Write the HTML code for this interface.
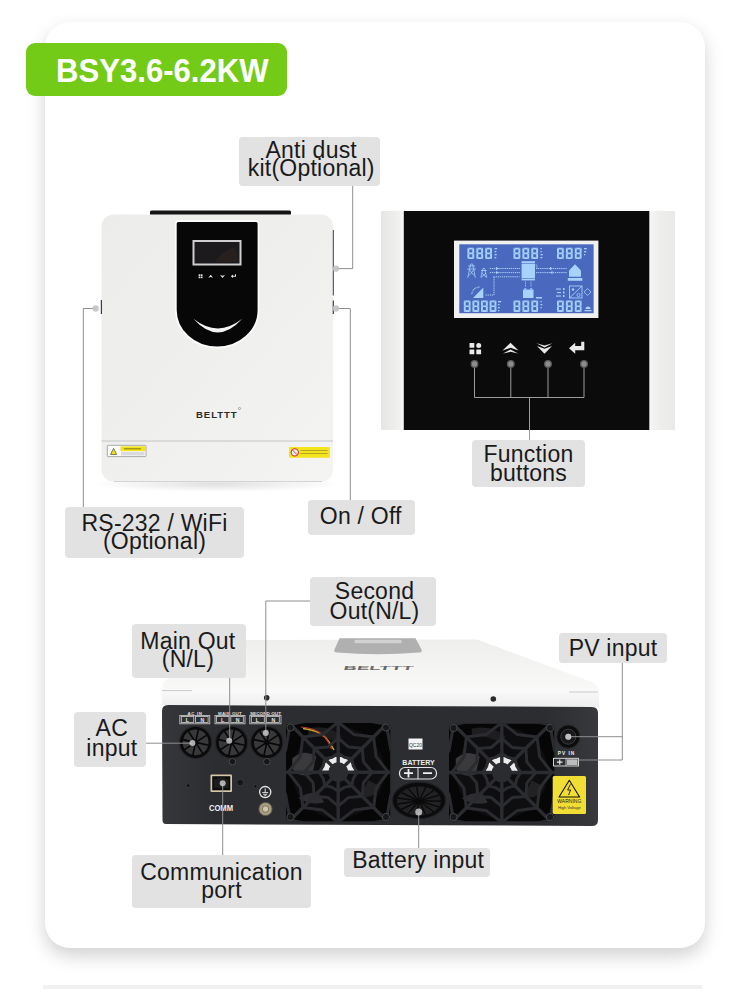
<!DOCTYPE html>
<html><head><meta charset="utf-8">
<style>
*{margin:0;padding:0;box-sizing:border-box}
html,body{width:750px;height:995px;background:#fff;overflow:hidden;position:relative;font-family:"Liberation Sans",sans-serif}
.card{position:absolute;left:45px;top:22px;width:660px;height:926px;border-radius:25px;background:#fff;box-shadow:0 8px 18px rgba(0,0,0,0.18)}
.bar{position:absolute;left:43px;top:985px;width:659px;height:4px;background:#f1f1f1}
.tag{position:absolute;left:26px;top:43px;width:261px;height:53px;border-radius:9px;background:#74cb17;color:#fff;font-weight:bold;font-size:32.5px;line-height:52px;padding-left:30.2px}
.tt{display:inline-block;transform:scaleX(0.957);transform-origin:0 0;white-space:nowrap;position:relative;top:2px}
svg.g{position:absolute;left:0;top:0}
.lb{position:absolute;background:#e2e2e2;border-radius:4px;font-size:23px;line-height:18.5px;text-align:center;letter-spacing:0.22px;color:#1a1a1a;white-space:nowrap}
</style></head><body>
<div class="card"></div>
<div class="bar"></div>
<div class="tag"><span class="tt">BSY3.6-6.2KW</span></div>
<svg class="g" width="750" height="995" viewBox="0 0 750 995">
<defs>
 <linearGradient id="bodyG" x1="0" y1="0" x2="1" y2="1">
  <stop offset="0" stop-color="#ececeb"/><stop offset="0.5" stop-color="#efefee"/><stop offset="1" stop-color="#f4f4f3"/>
 </linearGradient>
 <radialGradient id="shadowG" cx="0.5" cy="0.5" r="0.5">
  <stop offset="0" stop-color="#000" stop-opacity="0.12"/><stop offset="1" stop-color="#000" stop-opacity="0"/>
 </radialGradient>
 <linearGradient id="sideL" x1="0" y1="0" x2="1" y2="0">
  <stop offset="0" stop-color="#d9d9d7"/><stop offset="1" stop-color="#f4f4f2"/>
 </linearGradient>
 <linearGradient id="sideR" x1="0" y1="0" x2="1" y2="0">
  <stop offset="0" stop-color="#f4f4f2"/><stop offset="1" stop-color="#dcdcda"/>
 </linearGradient>
</defs>
<!-- FRONT INVERTER -->
<ellipse cx="217" cy="484" rx="125" ry="8" fill="url(#shadowG)"/>
<rect x="150" y="210.5" width="141" height="5" rx="1.5" fill="#151515"/>
<rect x="101.5" y="214.5" width="231.5" height="267" rx="12" fill="url(#bodyG)"/>
<line x1="101.5" y1="441" x2="333" y2="441" stroke="#c4c4c2" stroke-width="1"/>
<line x1="114" y1="481.5" x2="322" y2="481.5" stroke="#d4d4d4" stroke-width="1"/>

<line x1="333.3" y1="230" x2="333.3" y2="295.5" stroke="#3a3d45" stroke-width="1"/>
<line x1="333.3" y1="300.5" x2="333.3" y2="314" stroke="#3a3d45" stroke-width="1.2"/>
<line x1="101.4" y1="300" x2="101.4" y2="314" stroke="#3a3d45" stroke-width="1.2"/>
<path d="M175.8 223.5 Q175.8 221 178.3 221 L256 221 Q258.5 221 258.5 223.5 L258.5 310 A41.35 37.5 0 0 1 175.8 310 Z" fill="#070707" stroke="#fbfbfb" stroke-width="1.8"/>
<rect x="193.5" y="241" width="47" height="23.5" fill="#1b1b22" stroke="#cfcfcf" stroke-width="2"/>
<rect x="195.5" y="242.5" width="43" height="20.5" fill="#1c1a1c"/>
<path d="M215 262 Q222 250 236 247 L238.5 262Z" fill="#2a2220" opacity="0.8"/>
<g fill="#e4e4e4">
 <rect x="198.6" y="274.3" width="1.7" height="1.7"/><rect x="200.8" y="274.3" width="1.7" height="1.7"/><rect x="198.6" y="276.5" width="1.7" height="1.7"/><rect x="200.8" y="276.5" width="1.7" height="1.7"/>
 <path d="M208.3 277.8 L210.7 274.8 L213.1 277.8 L210.7 277 Z"/>
 <path d="M220 275 L222.5 278 L225 275 L222.5 275.8 Z"/>
 <path d="M230.8 276.3 L233 274.5 V275.8 H235 V274.3 H236 V276.8 H233 V278 Z"/>
</g>
<path d="M193.4 318.8 Q217.8 346 242.2 318.8 Q217.8 338 193.4 318.8Z" fill="#f4f4f4"/>
<text x="196" y="417.5" font-family="Liberation Sans" font-weight="bold" font-size="9.6" letter-spacing="0.9" fill="#2b2b2b">BELTTT</text>
<circle cx="239.5" cy="408.5" r="1.1" fill="none" stroke="#666" stroke-width="0.5"/>
<!-- caution label -->
<rect x="107.3" y="445.3" width="38.7" height="11.3" rx="0.8" fill="#fbfbfb" stroke="#8a8a8a" stroke-width="0.7"/>
<rect x="120.5" y="446.3" width="24.5" height="4.8" fill="#f0e21c"/>
<rect x="121" y="451.8" width="23.5" height="3.6" fill="#d9d9de"/>
<path d="M110.5 454.5 L113.6 448.3 L116.7 454.5Z" fill="#efe01c" stroke="#333" stroke-width="0.6"/>
<path d="M124 448.8 H141" stroke="#6a6010" stroke-width="0.8"/>
<rect x="289" y="447" width="41" height="10.8" rx="1" fill="#f3e41e"/>
<circle cx="294.8" cy="452.4" r="3.6" fill="#e8eef4" stroke="#d83030" stroke-width="1.1"/>
<path d="M292.3 449.9 L297.3 454.9" stroke="#d83030" stroke-width="0.9"/>
<g fill="#8a7a20"><rect x="300.5" y="450.3" width="27" height="0.6"/><rect x="300.5" y="453.3" width="27" height="0.6"/></g>

<!-- RIGHT PANEL -->
<defs>
 <linearGradient id="stripL" x1="0" y1="0" x2="1" y2="0">
  <stop offset="0" stop-color="#e6e6e5"/><stop offset="0.6" stop-color="#ededec"/><stop offset="1" stop-color="#f6f6f5"/>
 </linearGradient>
 <linearGradient id="stripR" x1="0" y1="0" x2="1" y2="0">
  <stop offset="0" stop-color="#f6f6f5"/><stop offset="0.4" stop-color="#eeeeed"/><stop offset="1" stop-color="#e9e9e8"/>
 </linearGradient>
 <linearGradient id="blackP" x1="0" y1="0" x2="0" y2="1">
  <stop offset="0" stop-color="#0a0a0b"/><stop offset="1" stop-color="#0b0b0c"/>
 </linearGradient>
</defs>
<rect x="381" y="211" width="23" height="219" fill="url(#stripL)"/>
<rect x="649" y="211" width="26" height="219" fill="url(#stripR)"/>
<rect x="403.8" y="211" width="245.5" height="219" fill="url(#blackP)"/>
<rect x="454" y="240.6" width="144.4" height="77.4" fill="#f0f0f0"/>
<rect x="459.3" y="244.3" width="134.3" height="68.9" fill="#4a68bd"/>
<g id="lcd">
<symbol id="d8" overflow="visible"><path fill="#a6d2fb" fill-rule="evenodd" d="M1 0 H5.8 Q6.8 0 6.8 1 V10.4 Q6.8 11.4 5.8 11.4 H1 Q0 11.4 0 10.4 V1 Q0 0 1 0 Z M1.9 1.8 V4.9 H4.9 V1.8 Z M1.9 6.5 V9.6 H4.9 V6.5 Z"/>
<path d="M0 5.7 H1.2 M5.6 5.7 H6.8 M0.8 0.5 L1.6 1.3 M6 0.5 L5.2 1.3 M0.8 10.9 L1.6 10.1 M6 10.9 L5.2 10.1" stroke="#4a68bd" stroke-width="0.5"/></symbol>
<use href="#d8" x="467.4" y="247.7"/><use href="#d8" x="476.3" y="247.7"/><use href="#d8" x="485.2" y="247.7"/><use href="#d8" x="513.5" y="247.7"/><use href="#d8" x="522.4" y="247.7"/><use href="#d8" x="531.3" y="247.7"/><use href="#d8" x="557.0" y="247.7"/><use href="#d8" x="565.9" y="247.7"/><use href="#d8" x="574.8" y="247.7"/>
<use href="#d8" x="463.8" y="300.5"/><use href="#d8" x="472.4" y="300.5"/><use href="#d8" x="481.0" y="300.5"/><use href="#d8" x="489.6" y="300.5"/><use href="#d8" x="513.5" y="300.5"/><use href="#d8" x="522.4" y="300.5"/><use href="#d8" x="531.3" y="300.5"/><use href="#d8" x="557.0" y="300.5"/><use href="#d8" x="565.9" y="300.5"/><use href="#d8" x="574.8" y="300.5"/>
<g fill="#a6d2fb" font-family="Liberation Sans" font-size="2.6">
 <rect x="494.5" y="248" width="2.6" height="1.3"/><rect x="494.5" y="251" width="1.8" height="1.3"/><rect x="494.5" y="254" width="2.2" height="1.3"/><rect x="494.5" y="257" width="1.8" height="1.3"/>
 <rect x="540.5" y="248" width="1.3" height="1.3"/><rect x="540.5" y="251" width="1.3" height="1.3"/><rect x="540.5" y="254" width="2.2" height="1.3"/><rect x="540.5" y="257" width="1.8" height="1.3"/>
 <rect x="584" y="248" width="2.8" height="1.3"/><rect x="584" y="251" width="2.2" height="1.3"/><rect x="584" y="254" width="1.3" height="1.3"/>
 <rect x="498" y="301" width="3.2" height="1.3"/><rect x="498" y="304" width="1.5" height="1.3"/><rect x="498" y="307" width="1.8" height="1.3"/><rect x="498" y="310" width="1.3" height="1.3"/>
 <rect x="540.5" y="301" width="1.3" height="1.3"/><rect x="540.5" y="304" width="1.8" height="1.3"/><rect x="540.5" y="307" width="1.3" height="1.3"/>
 <rect x="536" y="297" width="6" height="1.5"/>
 <!-- inverter -->
 <rect x="521.6" y="261.2" width="13.4" height="1.8"/>
 <rect x="521.6" y="263.6" width="13.4" height="14.4"/>
 <rect x="521.6" y="278.6" width="13.4" height="1.8"/>
 <!-- battery -->
 <rect x="523" y="289.5" width="10.5" height="8.5"/><rect x="524.3" y="288.2" width="2" height="1.3"/><rect x="530.2" y="288.2" width="2" height="1.3"/>
 <!-- house -->
 <path d="M569 270.5 L575 264.3 L581 270.5 L581 276.8 L569 276.8 Z"/>
 <rect x="567.8" y="278" width="14.5" height="2.8"/>
 <!-- solar -->
 <path d="M473 298 L483.3 287.5 L483.3 298 Z"/>
 <path d="M471.8 294 A8 8 0 0 1 480 287" fill="none" stroke="#a6d2fb" stroke-width="1.2" stroke-dasharray="0.8 0.6"/>
 <!-- fault labels -->
 <rect x="556" y="288.5" width="5" height="1.1"/><rect x="557" y="292" width="4" height="1.1"/><rect x="556" y="295.5" width="5" height="1.1"/>
 <rect x="563" y="288" width="1.5" height="2"/><rect x="563" y="291.5" width="1.5" height="2"/><rect x="563" y="295" width="1.5" height="2"/>
 <!-- sun/diamond -->
 <path d="M587.5 288.5 L591 292 L587.5 295.5 L584 292 Z" fill="none" stroke="#a6d2fb" stroke-width="0.8"/>
 <path d="M584.5 310 H591.5 V311.3 H584.5Z M585.5 309 A2.5 2.5 0 0 1 590.5 309Z"/>
</g>
<g stroke="#a6d2fb" fill="none" stroke-width="0.9">
 <path d="M467.8 277.8 L470.6 264 M475.4 277.8 L472.6 264 M470.6 264 H472.6 M468.2 266 H475 M467.2 269 H476 M469.6 270 L474 275.5 M473.6 270 L469.2 275.5" stroke-width="0.8"/>
 <path d="M480.8 277.8 L483 268.5 M486.8 277.8 L484.6 268.5 M483 268.5 H484.6 M481 270.5 H486.6 M481.6 273 L486 277 M486 273 L481.6 277" stroke-width="0.8"/>
 <path d="M489.8 268.5 H520 M489.8 272.6 H520 M536 268.5 H567 M536 272.6 H567 M493.5 276.8 H519.5 M494 277 V295 H485" stroke-dasharray="1.3 0.8" stroke-width="1"/>
 <path d="M534.5 265 H537 V268" stroke-dasharray="1 0.6"/>
 <path d="M525.5 281.5 V287 M531 281.5 V287" stroke-dasharray="1 0.7"/>
 <rect x="569.5" y="286" width="12.5" height="12"/>
 <path d="M569.5 298 L582 286"/>
</g>
<g fill="#a6d2fb"><path d="M496 266.8 L498.5 268.5 L496 270.2Z M496 270.9 L498.5 272.6 L496 274.3Z M550 266.8 L552.5 268.5 L550 270.2Z M552.5 270.9 L550 272.6 L552.5 274.3Z"/>
<circle cx="573" cy="289.5" r="1.3"/><circle cx="578.5" cy="295" r="1.6" fill="none" stroke="#a6d2fb" stroke-width="0.8"/></g>
</g>
<!-- buttons -->
<g fill="#e9e9e9">
 <rect x="469.5" y="343" width="4.8" height="4.8" rx="0.5"/><circle cx="478.7" cy="345.4" r="2.5"/>
 <rect x="469.5" y="349.5" width="4.8" height="4.8" rx="0.5"/><rect x="476.3" y="349.5" width="4.8" height="4.8" rx="0.5"/>
 <path d="M502.5 350.5 L510.5 342.8 L518.5 350.5 L510.5 347.8 Z"/>
 <path d="M503 353.6 L510.5 349.5 L518 353.6 L510.5 351.8 Z"/>
 <path d="M536.5 343.3 L544.5 347.5 L552.5 343.3 L544.5 345.4 Z"/>
 <path d="M537 346 L544.5 348.7 L552 346 L544.5 353.8 Z"/>
 <path d="M569 348.3 L575.2 342.8 L575.2 346 L581.2 346 L581.2 341.8 L584.3 341.8 L584.3 350.3 L575.2 350.3 L575.2 353.8 Z"/>
</g>
<g stroke="#9c9c9c" stroke-width="1" fill="none">
 <path d="M474.5 364 V397.5 H584 V364 M510.8 364 V397.5 M548 364 V397.5 M529.5 397.5 V440"/>
</g>
<g fill="#8c8c8c" stroke="#5a5a5a" stroke-width="1.3">
 <circle cx="474.5" cy="364" r="3.3"/><circle cx="510.8" cy="364" r="3.3"/><circle cx="548" cy="364" r="3.3"/><circle cx="584" cy="364" r="3.3"/>
</g>
<!-- top section leader lines -->
<g stroke="#8e8e8e" stroke-width="1" fill="none">
 <path d="M352.7 186 V268.6 H336"/>
 <path d="M336 308.5 H350.3 V500"/>
 <path d="M95.7 308.5 H83.3 V507"/>
</g>
<g fill="#c4c4c4" opacity="0.9">
 <circle cx="336" cy="268.6" r="3.2"/><circle cx="336" cy="308.5" r="3.2"/><circle cx="95.7" cy="308.5" r="3.2"/>
</g>


<!-- BOTTOM UNIT -->
<defs>
 <linearGradient id="topS" x1="0" y1="0" x2="0" y2="1">
  <stop offset="0" stop-color="#eeeeed"/><stop offset="0.6" stop-color="#f5f5f4"/><stop offset="1" stop-color="#f9f9f8"/>
 </linearGradient>
 <linearGradient id="panelG" x1="0" y1="0" x2="1" y2="0">
  <stop offset="0" stop-color="#36373b"/><stop offset="0.12" stop-color="#2c2d31"/><stop offset="0.88" stop-color="#2c2d31"/><stop offset="1" stop-color="#38393d"/>
 </linearGradient>
 <linearGradient id="frontS" x1="0" y1="0" x2="0" y2="1">
  <stop offset="0" stop-color="#fafafa"/><stop offset="1" stop-color="#ededed"/>
 </linearGradient>
</defs>
<path d="M162 690 Q162 680 172 676 L246 640 L477 639.5 L592 682 Q599 685 599 692 Z" fill="url(#topS)"/>
<path d="M334.5 649.5 Q333 652 337 652.5 Q378 656 419 652.5 Q423 652 421.5 649.5 L415.5 638.2 L339.5 638.2 Z" fill="#b0b0b0"/>
<rect x="354.5" y="639.8" width="47" height="3.4" fill="#d2d2d2"/>
<text x="343" y="670" font-family="Liberation Sans" font-weight="bold" font-size="6" textLength="70" lengthAdjust="spacingAndGlyphs" fill="#6a6a6a" transform="translate(179.5 0) skewX(-15)">BELTTT</text>
<path d="M162 690 H599 V707.5 L162 705 Z" fill="url(#frontS)"/>
<line x1="162" y1="690.6" x2="192" y2="690.6" stroke="#bcbcbc" stroke-width="0.8"/>
<line x1="569" y1="692" x2="598" y2="692" stroke="#bcbcbc" stroke-width="0.8"/>
<path d="M162 711 Q162 705 168 705 L592 707 Q598 707 598 713 L598 820 Q598 826 592 826 L166 824 Q162.5 824 162.5 820 Z" fill="url(#panelG)"/>
<circle cx="266.7" cy="697.7" r="2.8" fill="#2a2a2c"/>
<circle cx="493.3" cy="699" r="2.8" fill="#2a2a2c"/>
<g font-family="Liberation Sans" font-weight="bold" font-size="4.4" fill="#e0e0e0" text-anchor="middle">
 <text x="195" y="714.6" letter-spacing="0.6">AC IN</text><text x="230" y="714.6" letter-spacing="0.3">MAIN OUT</text><text x="265.5" y="714.6" textLength="31" lengthAdjust="spacingAndGlyphs">SECOND OUT</text>
</g>
<g font-family="Liberation Sans" font-weight="bold" font-size="5.2" fill="#e8e8e8" text-anchor="middle">
 <text x="187.3" y="721.8">L</text><text x="202.3" y="721.8">N</text>
 <text x="222.5" y="721.8">L</text><text x="237.5" y="721.8">N</text>
 <text x="257.3" y="721.8">L</text><text x="273.3" y="721.8">N</text>
</g>
<g fill="none" stroke="#d0d0d0" stroke-width="0.8">
 <rect x="179.8" y="715.4" width="30" height="8.4"/><rect x="181.3" y="716.6" width="12.5" height="6"/><rect x="195.6" y="716.6" width="12.5" height="6"/>
 <rect x="215" y="715.4" width="30" height="8.4"/><rect x="216.5" y="716.6" width="12.5" height="6"/><rect x="230.8" y="716.6" width="12.5" height="6"/>
 <rect x="249.8" y="715.4" width="31.2" height="8.4"/><rect x="251.3" y="716.6" width="13" height="6"/><rect x="266.3" y="716.6" width="13" height="6"/>
</g>
<circle cx="195.6" cy="742.4" r="16.7" fill="#242528"/>
<circle cx="195.6" cy="742.4" r="15.5" fill="#0a0a0b"/>
<circle cx="195.6" cy="742.4" r="12.9" fill="#38383b"/>
<path d="M195.6 742.4 L208.6 745.2 M195.6 742.4 L202.8 753.6 M195.6 742.4 L192.8 755.4 M195.6 742.4 L184.4 749.6 M195.6 742.4 L182.6 739.6 M195.6 742.4 L188.4 731.2 M195.6 742.4 L198.4 729.4 M195.6 742.4 L206.8 735.2" stroke="#070708" stroke-width="1.6"/>
<circle cx="195.6" cy="742.4" r="2.2" fill="#0a0a0a"/>
<circle cx="231.6" cy="742.4" r="16.7" fill="#242528"/>
<circle cx="231.6" cy="742.4" r="15.5" fill="#0a0a0b"/>
<circle cx="231.6" cy="742.4" r="12.9" fill="#38383b"/>
<path d="M231.6 742.4 L244.6 745.2 M231.6 742.4 L238.8 753.6 M231.6 742.4 L228.8 755.4 M231.6 742.4 L220.4 749.6 M231.6 742.4 L218.6 739.6 M231.6 742.4 L224.4 731.2 M231.6 742.4 L234.4 729.4 M231.6 742.4 L242.8 735.2" stroke="#070708" stroke-width="1.6"/>
<circle cx="231.6" cy="742.4" r="2.2" fill="#0a0a0a"/>
<circle cx="266.8" cy="742.4" r="16.7" fill="#242528"/>
<circle cx="266.8" cy="742.4" r="15.5" fill="#0a0a0b"/>
<circle cx="266.8" cy="742.4" r="12.9" fill="#38383b"/>
<path d="M266.8 742.4 L279.8 745.2 M266.8 742.4 L274.0 753.6 M266.8 742.4 L264.0 755.4 M266.8 742.4 L255.6 749.6 M266.8 742.4 L253.8 739.6 M266.8 742.4 L259.6 731.2 M266.8 742.4 L269.6 729.4 M266.8 742.4 L278.0 735.2" stroke="#070708" stroke-width="1.6"/>
<circle cx="266.8" cy="742.4" r="2.2" fill="#0a0a0a"/>
<circle cx="232.4" cy="761.6" r="3.3" fill="#161618" stroke="#4a4a4e" stroke-width="1"/>
<circle cx="266.8" cy="761.6" r="3.3" fill="#161618" stroke="#4a4a4e" stroke-width="1"/>
<circle cx="188.2" cy="785.5" r="1.6" fill="#0a0a0a" stroke="#48484c" stroke-width="0.5"/>
<circle cx="255.4" cy="786.3" r="1.5" fill="#0a0a0a" stroke="#48484c" stroke-width="0.5"/>
<circle cx="240.2" cy="782.6" r="3.5" fill="#161618" stroke="#3a3a3e" stroke-width="1"/>
<rect x="210.5" y="774.5" width="21.5" height="17.5" rx="1" fill="#d6c7a8"/>
<rect x="212.2" y="776.2" width="18.1" height="14.1" fill="#0c0c0c"/>
<path d="M214 779 H217.5 V777.5 H225 V779 H228.5 V788 H214 Z" fill="#1c1c1c"/>
<text x="221" y="811" font-family="Liberation Sans" font-weight="bold" font-size="8.5" fill="#f0f0f0" text-anchor="middle" transform="translate(221 0) scale(0.9 1) translate(-221 0)">COMM</text>
<circle cx="265.2" cy="792.1" r="5.6" fill="#2a2a2d" stroke="#e6e6e6" stroke-width="1.3"/>
<path d="M265.2 788.3 V792.3 M262.2 792.6 H268.2 M263.2 794.3 H267.2 M264.2 795.8 H266.2" stroke="#eeeeee" stroke-width="0.9"/>
<circle cx="265.5" cy="809" r="6.6" fill="#a89d80" stroke="#5e574a" stroke-width="0.9"/>
<circle cx="265.5" cy="809" r="3.2" fill="#cfc6ae" stroke="#6e6654" stroke-width="0.8"/>
<clipPath id="fc1"><rect x="286" y="723" width="104.5" height="98.5" rx="5"/></clipPath>
<g clip-path="url(#fc1)">
<rect x="286" y="723" width="104.5" height="98.5" fill="#060607"/>
<circle cx="338.25" cy="772.25" r="46" fill="#0e0e10"/>
<path d="M292.25 758.25 q12 -10 24 -2 l-4 18 q-14 4 -20 -6 z" fill="#3a3a3d"/>
<path d="M298.25 798.25 q14 8 26 4 l-6 -10 q-12 0 -20 6z" fill="#2e2e31"/>
<path d="M360.25 796.25 q14 4 20 -10 l-12 -6 z" fill="#222225"/>
<path d="M308.25 728.25 q20 -4 34 8 l-6 6 q-14 -8 -28 -6z" fill="#1e1e21"/>
<path d="M321.75 773.25 A16.5 16.5 0 0 1 354.75 773.25 L348.25 773.25 A10 10 0 0 0 328.25 773.25 Z" fill="#ececec"/>
<path d="M303 728.5 Q318 730 326 738 Q331 744 334 750" stroke="#c8a82a" stroke-width="1.4" fill="none"/><path d="M301 727 Q316 728 324 736 Q329 742 331.5 749" stroke="#b83a2a" stroke-width="1.2" fill="none"/>
<path d="M347.2 772.2 L393.2 772.2 M344.6 778.6 L391.3 825.3 M338.2 781.2 L338.2 827.2 M331.9 778.6 L285.2 825.3 M329.2 772.2 L283.2 772.2 M331.9 765.9 L285.2 719.2 M338.2 763.2 L338.2 717.2 M344.6 765.9 L391.3 719.2" stroke="#2b2c30" stroke-width="3.4" fill="none"/>
<polygon points="357.2,772.2 353.3,778.5 351.7,785.7 344.5,787.3 338.2,791.2 332.0,787.3 324.8,785.7 323.2,778.5 319.2,772.2 323.2,766.0 324.8,758.8 332.0,757.2 338.2,753.2 344.5,757.2 351.7,758.8 353.3,766.0" stroke="#2b2c30" stroke-width="3" fill="none" stroke-linejoin="round"/>
<polygon points="372.2,772.2 363.4,782.7 362.3,796.3 348.7,797.4 338.2,806.2 327.8,797.4 314.2,796.3 313.1,782.7 304.2,772.2 313.1,761.8 314.2,748.2 327.8,747.1 338.2,738.2 348.7,747.1 362.3,748.2 363.4,761.8" stroke="#2b2c30" stroke-width="3" fill="none" stroke-linejoin="round"/>
<polygon points="388.2,772.2 376.1,787.9 373.6,807.6 353.9,810.1 338.2,822.2 322.6,810.1 302.9,807.6 300.4,787.9 288.2,772.2 300.4,756.6 302.9,736.9 322.6,734.4 338.2,722.2 353.9,734.4 373.6,736.9 376.1,756.6" stroke="#2b2c30" stroke-width="3" fill="none" stroke-linejoin="round"/>
<polygon points="406.2,772.2 391.0,794.1 386.3,820.3 360.1,825.0 338.2,840.2 316.4,825.0 290.2,820.3 285.5,794.1 270.2,772.2 285.5,750.4 290.2,724.2 316.4,719.5 338.2,704.2 360.1,719.5 386.3,724.2 391.0,750.4" stroke="#2b2c30" stroke-width="3" fill="none" stroke-linejoin="round"/>
<circle cx="338.25" cy="772.25" r="10" fill="#2b2c30"/>
</g>
<circle cx="290.5" cy="727.5" r="3.6" fill="#18181a" stroke="#4a4b4f" stroke-width="0.9"/>
<circle cx="386.0" cy="727.5" r="3.6" fill="#18181a" stroke="#4a4b4f" stroke-width="0.9"/>
<circle cx="290.5" cy="817.0" r="3.6" fill="#18181a" stroke="#4a4b4f" stroke-width="0.9"/>
<circle cx="386.0" cy="817.0" r="3.6" fill="#18181a" stroke="#4a4b4f" stroke-width="0.9"/>
<clipPath id="fc2"><rect x="449" y="723.5" width="105.5" height="98" rx="5"/></clipPath>
<g clip-path="url(#fc2)">
<rect x="449" y="723.5" width="105.5" height="98" fill="#060607"/>
<circle cx="501.75" cy="772.5" r="46" fill="#0e0e10"/>
<path d="M455.75 758.5 q12 -10 24 -2 l-4 18 q-14 4 -20 -6 z" fill="#3a3a3d"/>
<path d="M461.75 798.5 q14 8 26 4 l-6 -10 q-12 0 -20 6z" fill="#2e2e31"/>
<path d="M523.75 796.5 q14 4 20 -10 l-12 -6 z" fill="#222225"/>
<path d="M471.75 728.5 q20 -4 34 8 l-6 6 q-14 -8 -28 -6z" fill="#1e1e21"/>
<path d="M485.25 773.5 A16.5 16.5 0 0 1 518.25 773.5 L511.75 773.5 A10 10 0 0 0 491.75 773.5 Z" fill="#ececec"/>

<path d="M510.8 772.5 L556.8 772.5 M508.1 778.9 L554.8 825.5 M501.8 781.5 L501.8 827.5 M495.4 778.9 L448.7 825.5 M492.8 772.5 L446.8 772.5 M495.4 766.1 L448.7 719.5 M501.8 763.5 L501.8 717.5 M508.1 766.1 L554.8 719.5" stroke="#2b2c30" stroke-width="3.4" fill="none"/>
<polygon points="520.8,772.5 516.8,778.8 515.2,785.9 508.0,787.6 501.8,791.5 495.5,787.6 488.3,785.9 486.7,778.8 482.8,772.5 486.7,766.2 488.3,759.1 495.5,757.4 501.8,753.5 508.0,757.4 515.2,759.1 516.8,766.2" stroke="#2b2c30" stroke-width="3" fill="none" stroke-linejoin="round"/>
<polygon points="535.8,772.5 526.9,782.9 525.8,796.5 512.2,797.6 501.8,806.5 491.3,797.6 477.7,796.5 476.6,782.9 467.8,772.5 476.6,762.1 477.7,748.5 491.3,747.4 501.8,738.5 512.2,747.4 525.8,748.5 526.9,762.1" stroke="#2b2c30" stroke-width="3" fill="none" stroke-linejoin="round"/>
<polygon points="551.8,772.5 539.6,788.2 537.1,807.9 517.4,810.4 501.8,822.5 486.1,810.4 466.4,807.9 463.9,788.2 451.8,772.5 463.9,756.8 466.4,737.1 486.1,734.6 501.8,722.5 517.4,734.6 537.1,737.1 539.6,756.8" stroke="#2b2c30" stroke-width="3" fill="none" stroke-linejoin="round"/>
<polygon points="569.8,772.5 554.5,794.4 549.8,820.6 523.6,825.3 501.8,840.5 479.9,825.3 453.7,820.6 449.0,794.4 433.8,772.5 449.0,750.6 453.7,724.4 479.9,719.7 501.8,704.5 523.6,719.7 549.8,724.4 554.5,750.6" stroke="#2b2c30" stroke-width="3" fill="none" stroke-linejoin="round"/>
<circle cx="501.75" cy="772.5" r="10" fill="#2b2c30"/>
</g>
<circle cx="453.5" cy="728.0" r="3.6" fill="#18181a" stroke="#4a4b4f" stroke-width="0.9"/>
<circle cx="550.0" cy="728.0" r="3.6" fill="#18181a" stroke="#4a4b4f" stroke-width="0.9"/>
<circle cx="453.5" cy="817.0" r="3.6" fill="#18181a" stroke="#4a4b4f" stroke-width="0.9"/>
<circle cx="550.0" cy="817.0" r="3.6" fill="#18181a" stroke="#4a4b4f" stroke-width="0.9"/>
<rect x="408.5" y="738.5" width="14" height="11" fill="#f4f4f4"/>
<text x="415.5" y="746.5" font-family="Liberation Sans" font-size="5" fill="#333" text-anchor="middle">QC20</text>
<text x="418.5" y="765" font-family="Liberation Sans" font-weight="bold" font-size="7" fill="#eeeeee" text-anchor="middle">BATTERY</text>
<rect x="399.5" y="767.5" width="37" height="11.5" rx="5.5" fill="none" stroke="#e6e6e6" stroke-width="1.2"/>
<line x1="418" y1="767.5" x2="418" y2="779" stroke="#e6e6e6" stroke-width="1"/>
<path d="M404 773.2 H413 M408.5 769 V777.5 M423 773.2 H432" stroke="#f0f0f0" stroke-width="1.8"/>
<ellipse cx="419" cy="800.4" rx="26.5" ry="18.2" fill="#0b0b0c" stroke="#1e1f22" stroke-width="1.2"/>
<ellipse cx="419" cy="801" rx="22" ry="14.5" fill="#222224"/>
<g stroke="#0a0a0b" stroke-width="1.4">
<line x1="419" y1="801" x2="441.0" y2="801.0"/> <line x1="419" y1="801" x2="439.1" y2="806.9"/> <line x1="419" y1="801" x2="433.7" y2="811.8"/> <line x1="419" y1="801" x2="425.8" y2="814.8"/> <line x1="419" y1="801" x2="416.7" y2="815.4"/> <line x1="419" y1="801" x2="408.0" y2="813.6"/> <line x1="419" y1="801" x2="401.2" y2="809.5"/> <line x1="419" y1="801" x2="397.5" y2="804.0"/> <line x1="419" y1="801" x2="397.5" y2="798.0"/> <line x1="419" y1="801" x2="401.2" y2="792.5"/> <line x1="419" y1="801" x2="408.0" y2="788.4"/> <line x1="419" y1="801" x2="416.7" y2="786.6"/> <line x1="419" y1="801" x2="425.8" y2="787.2"/> <line x1="419" y1="801" x2="433.7" y2="790.2"/> <line x1="419" y1="801" x2="439.1" y2="795.1"/>
</g>
<circle cx="419" cy="801" r="3" fill="#0a0a0a"/>
<circle cx="568.3" cy="736.7" r="11.5" fill="#0c0c0d" stroke="#222" stroke-width="1"/>
<circle cx="568.3" cy="736.7" r="7.5" fill="#19191b" stroke="#3c3c40" stroke-width="1"/>
<circle cx="568.3" cy="736.7" r="3" fill="#8d8d8d"/>
<text x="566.5" y="754.5" font-family="Liberation Sans" font-weight="bold" font-size="4.8" fill="#eee" text-anchor="middle" letter-spacing="1">PV  IN</text>
<rect x="553.5" y="758.3" width="25" height="7.7" fill="none" stroke="#e6e6e6" stroke-width="0.9"/>
<line x1="566" y1="758.3" x2="566" y2="766" stroke="#e6e6e6" stroke-width="0.8"/>
<rect x="567" y="759.3" width="10.5" height="5.7" fill="#bdbdbd"/>
<path d="M557 762.1 H562.5 M559.75 759.5 V764.7" stroke="#f0f0f0" stroke-width="1.1"/>
<rect x="552.7" y="776" width="33.3" height="38" rx="1.5" fill="#f1de34"/>
<path d="M569.3 780.3 L559 797 H579.6 Z" fill="none" stroke="#111" stroke-width="1.1" stroke-linejoin="round"/>
<path d="M570.4 784.3 L567.6 790 H570.6 L568.6 795" stroke="#111" stroke-width="0.9" fill="none"/>
<text x="569.3" y="803" font-family="Liberation Sans" font-size="5" fill="#222" text-anchor="middle">WARNING</text>
<text x="569.3" y="808.5" font-family="Liberation Sans" font-size="4" fill="#333" text-anchor="middle">High Voltage</text>
<g stroke="#8e8e8e" stroke-width="1" fill="none">
 <path d="M310 601 H265.8 V733"/>
 <path d="M229.7 678 V740.8"/>
 <path d="M146 743.2 H192.4"/>
 <path d="M622.3 663 V760 H578.5 M622.3 736.7 H568.3"/>
 <path d="M222.7 783.3 V855"/>
 <path d="M418.7 812 V848"/>
</g>
<g fill="#c8c8c8" opacity="0.85">
 <circle cx="192.4" cy="743" r="3"/><circle cx="229.2" cy="740.8" r="3"/><circle cx="265.8" cy="733" r="3"/>
 <circle cx="568.3" cy="736.7" r="3"/><circle cx="222.7" cy="783.3" r="3"/><circle cx="418.7" cy="812" r="3.5"/>
</g>
</svg>
<div class="lb" style="left:239px;top:137px;width:141px;height:49px;padding:3.9px 0.0px 0 3.5px;line-height:18.5px">Anti dust<br>kit(Optional)</div>
<div class="lb" style="left:472px;top:440px;width:113px;height:47px;padding:5.4px 0.0px 0 0.0px;line-height:18.9px">Function<br>buttons</div>
<div class="lb" style="left:65px;top:507px;width:179px;height:51px;padding:7.05px 0.0px 0 0.0px;line-height:18.2px">RS-232 / WiFi<br>(Optional)</div>
<div class="lb" style="left:308px;top:500px;width:107px;height:35px;padding:7.2px 1.4px 0 0.0px;line-height:18.5px">On / Off</div>
<div class="lb" style="left:310px;top:577px;width:126px;height:49px;padding:3.55px 0.0px 0 3.0px;line-height:20px">Second<br>Out(N/L)</div>
<div class="lb" style="left:132px;top:624px;width:114px;height:54px;padding:7.8px 2.2px 0 0.0px;line-height:18.1px">Main Out<br>(N/L)</div>
<div class="lb" style="left:559px;top:633px;width:108px;height:30px;padding:5.6px 0.0px 0 0.0px;line-height:18.5px">PV input</div>
<div class="lb" style="left:74px;top:712px;width:72px;height:55px;padding:6.45px 0.0px 0 3.6px;line-height:20px">AC<br>input</div>
<div class="lb" style="left:132px;top:855px;width:179px;height:53px;padding:7.65px 0.0px 0 0.0px;line-height:18.6px">Communication<br>port</div>
<div class="lb" style="left:344px;top:848px;width:146px;height:29px;padding:3.1px 0.0px 0 2.4px;line-height:18.5px">Battery input</div>
</body></html>
